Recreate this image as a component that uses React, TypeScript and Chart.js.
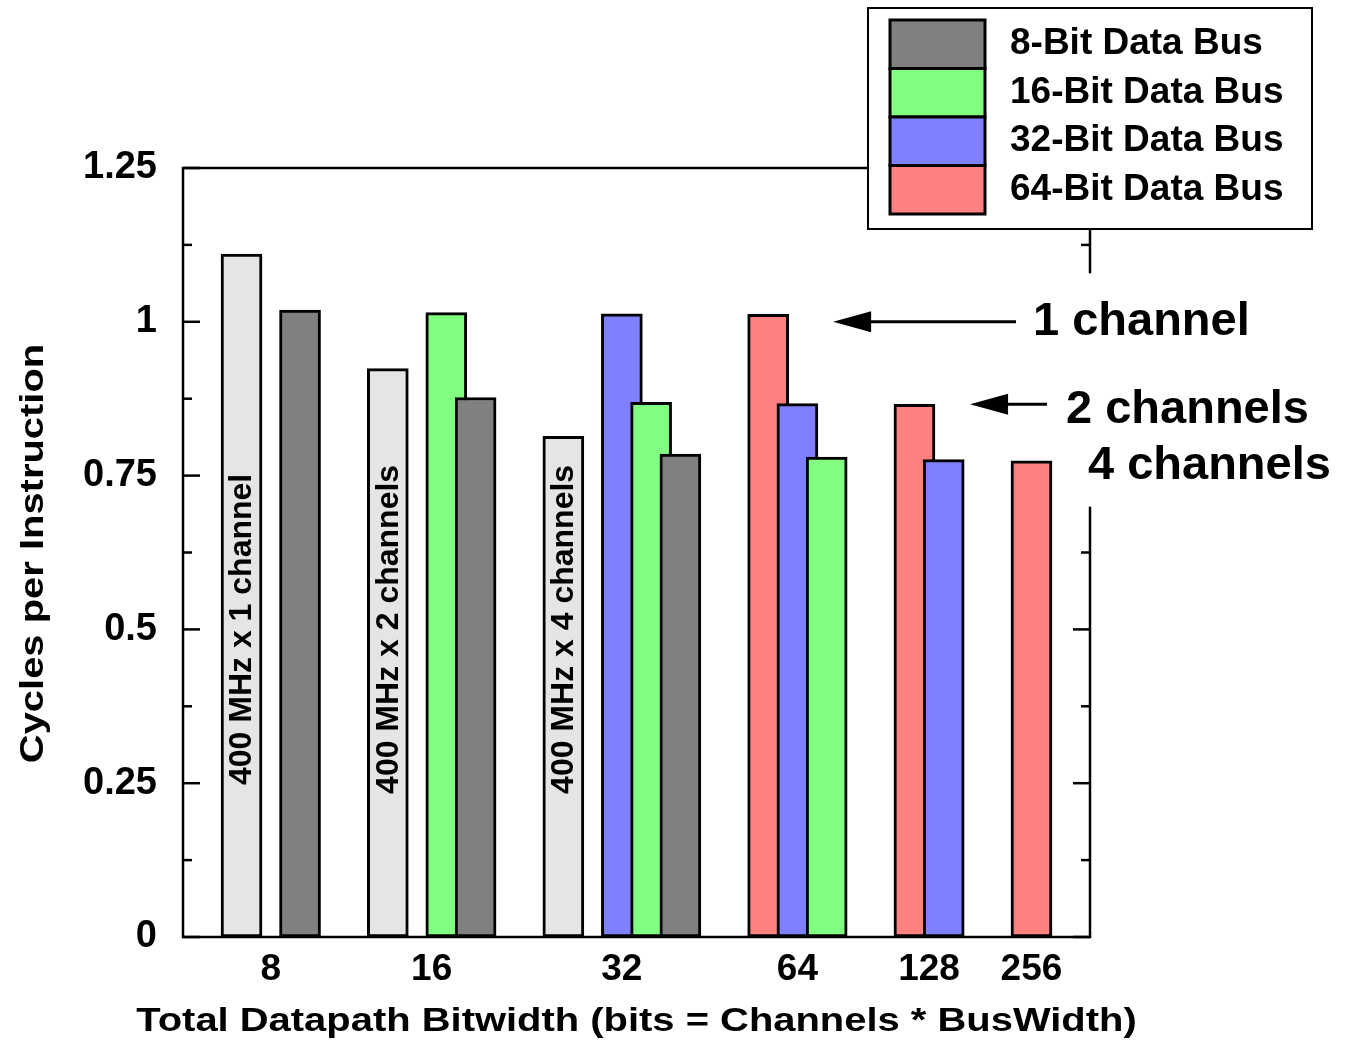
import { useEffect, useRef } from 'react';
import { Chart, registerables } from 'chart.js';

Chart.register(...registerables);

const FONT = "'Liberation Sans', Arial, Helvetica, sans-serif";

// x axis: slot positions (one slot = half-bar offset) and group tick labels
const groupLabels = ['8', '16', '32', '64', '128', '256'];
const groupSlots = [1, 6.5, 13, 19, 23.5, 27];
const xSlotMin = -2;
const xSlotMax = 29;

// reference bars: 400 MHz memory
const baselineSlots = [0, 5, 11];
const baselineValues = [1.11, 0.924, 0.814];
const baselineTexts = ['400 MHz x 1 channel', '400 MHz x 2 channels', '400 MHz x 4 channels'];
const baselineColor = '#e5e5e5';

// data-bus series
const bus8Slots = [2, 8, 15];
const bus8Values = [1.019, 0.877, 0.785];
const bus16Slots = [7, 14, 20];
const bus16Values = [1.015, 0.869, 0.78];
const bus32Slots = [13, 19, 24];
const bus32Values = [1.013, 0.867, 0.776];
const bus64Slots = [18, 23, 27];
const bus64Values = [1.012, 0.866, 0.774];

const seriesLabels = ['8-Bit Data Bus', '16-Bit Data Bus', '32-Bit Data Bus', '64-Bit Data Bus'];
const seriesColors = ['#808080', '#80ff80', '#8080ff', '#ff8080'];

// y axis
const yMajorTicks = [0, 0.25, 0.5, 0.75, 1, 1.25];
const yTickLabels = ['0', '0.25', '0.5', '0.75', '1', '1.25'];
const yMinorTicks = [0.125, 0.375, 0.625, 0.875, 1.125];

const xTitle = 'Total Datapath Bitwidth (bits = Channels * BusWidth)';
const yTitle = 'Cycles per Instruction';

// channel notes (levels in y units, positions in x slots)
const noteTexts = ['1 channel', '2 channels', '4 channels'];
const noteArrowLevels = [1.0, 0.866, null];
const noteArrowTips = [20.22, 24.9, null];
const noteArrowTails = [26.47, 27.53, null];
const noteTextLefts = [27.05, 28.18, 28.93];
const noteBaselines = [0.978, 0.836, 0.745];

const mk = (slots: number[], values: number[]) => slots.map((s, i) => ({ x: s, y: values[i] }));

const decorPlugin = {
  id: 'decor',
  afterDatasetsDraw(chart: any) {
    const { ctx, chartArea: a } = chart;
    const x = chart.scales.x;
    const y = chart.scales.y;
    ctx.save();
    // labels inside reference bars
    ctx.fillStyle = '#000';
    ctx.font = `bold 32px ${FONT}`;
    ctx.textAlign = 'center';
    ctx.textBaseline = 'middle';
    baselineSlots.forEach((s, i) => {
      ctx.save();
      ctx.translate(x.getPixelForValue(s) + 1, y.getPixelForValue(0.5));
      ctx.rotate(-Math.PI / 2);
      ctx.fillText(baselineTexts[i], 0, 0);
      ctx.restore();
    });
    // frame
    ctx.strokeStyle = '#000';
    ctx.lineWidth = 2.5;
    ctx.strokeRect(a.left, a.top, a.right - a.left, a.bottom - a.top);
    const seg = (x1: number, y1: number, x2: number, y2: number) => {
      ctx.beginPath();
      ctx.moveTo(x1, y1);
      ctx.lineTo(x2, y2);
      ctx.stroke();
    };
    yMajorTicks.forEach((v) => {
      const py = y.getPixelForValue(v);
      seg(a.left, py, a.left + 17, py);
      seg(a.right, py, a.right - 17, py);
    });
    yMinorTicks.forEach((v) => {
      const py = y.getPixelForValue(v);
      seg(a.left, py, a.left + 9, py);
      seg(a.right, py, a.right - 9, py);
    });
    ctx.restore();
  },
  afterDraw(chart: any) {
    const { ctx, chartArea: a } = chart;
    const x = chart.scales.x;
    const y = chart.scales.y;
    ctx.save();
    ctx.fillStyle = '#000';
    // axis titles
    ctx.font = `bold 33px ${FONT}`;
    ctx.textAlign = 'center';
    ctx.textBaseline = 'alphabetic';
    ctx.save();
    ctx.translate((a.left + a.right) / 2, 1031);
    ctx.scale(1.21, 1);
    ctx.fillText(xTitle, 0, 0);
    ctx.restore();
    ctx.save();
    ctx.translate(43, (a.top + a.bottom) / 2 + 1);
    ctx.rotate(-Math.PI / 2);
    ctx.scale(1.21, 1);
    ctx.fillText(yTitle, 0, 0);
    ctx.restore();

    // channel notes: white backgrounds first, then text and arrows
    ctx.font = `bold 47px ${FONT}`;
    ctx.textAlign = 'left';
    const boxes = noteTexts.map((t, i) => ({
      tx: x.getPixelForValue(noteTextLefts[i]),
      by: y.getPixelForValue(noteBaselines[i]),
      w: ctx.measureText(t).width,
    }));
    ctx.fillStyle = '#fff';
    boxes.forEach((b) => ctx.fillRect(b.tx - 18, b.by - 62, b.w + 24, 90));
    ctx.fillStyle = '#000';
    noteTexts.forEach((t, i) => {
      const b = boxes[i];
      ctx.fillText(t, b.tx, b.by);
      const lvl = noteArrowLevels[i];
      if (lvl !== null) {
        const ay = y.getPixelForValue(lvl);
        const tip = x.getPixelForValue(noteArrowTips[i] as number);
        const tail = x.getPixelForValue(noteArrowTails[i] as number);
        ctx.strokeStyle = '#000';
        ctx.lineWidth = 3;
        ctx.beginPath();
        ctx.moveTo(tail, ay);
        ctx.lineTo(tip + 30, ay);
        ctx.stroke();
        ctx.beginPath();
        ctx.moveTo(tip, ay);
        ctx.lineTo(tip + 38, ay - 10.5);
        ctx.lineTo(tip + 38, ay + 10.5);
        ctx.closePath();
        ctx.fill();
      }
    });

    // legend
    const lx = 868, ly = 8, lw = 444, lh = 221;
    ctx.fillStyle = '#fff';
    ctx.fillRect(lx, ly, lw, lh);
    ctx.strokeStyle = '#000';
    ctx.lineWidth = 2;
    ctx.strokeRect(lx, ly, lw, lh);
    const rowH = 48.5;
    ctx.font = `bold 37px ${FONT}`;
    ctx.textAlign = 'left';
    ctx.textBaseline = 'alphabetic';
    chart.data.datasets.slice(0, 4).forEach((ds: any, i: number) => {
      const top = 20 + i * rowH;
      ctx.fillStyle = ds.backgroundColor;
      ctx.fillRect(890, top, 95, rowH);
      ctx.strokeStyle = '#000';
      ctx.lineWidth = 3;
      ctx.strokeRect(890, top, 95, rowH);
      ctx.fillStyle = '#000';
      ctx.fillText(ds.label, 1010, top + 34);
    });
    ctx.restore();
  },
};

export default function App() {
  const ref = useRef<HTMLCanvasElement>(null);
  useEffect(() => {
    if (!ref.current) return;
    const barBase = { borderColor: '#000', borderWidth: 3, borderSkipped: false, barThickness: 41, grouped: false };
    const seriesSlots = [bus8Slots, bus16Slots, bus32Slots, bus64Slots];
    const seriesValues = [bus8Values, bus16Values, bus32Values, bus64Values];
    const datasets: any[] = seriesLabels.map((label, i) => ({
      ...barBase,
      label,
      data: mk(seriesSlots[i], seriesValues[i]),
      backgroundColor: seriesColors[i],
    }));
    datasets.push({
      ...barBase,
      label: '400 MHz',
      data: mk(baselineSlots, baselineValues),
      backgroundColor: baselineColor,
    });
    const chart = new Chart(ref.current, {
      type: 'bar',
      data: { datasets },
      options: {
        animation: false,
        responsive: false,
        devicePixelRatio: 1,
        layout: { padding: { left: 0, right: 255, top: 168, bottom: 0 } },
        plugins: { legend: { display: false }, tooltip: { enabled: false } },
        scales: {
          x: {
            type: 'linear',
            min: xSlotMin,
            max: xSlotMax,
            offset: false,
            grid: { display: false, drawTicks: false },
            border: { display: false },
            afterBuildTicks: (s: any) => {
              s.ticks = groupSlots.map((v) => ({ value: v }));
            },
            afterFit: (s: any) => {
              s.height = 104;
            },
            ticks: {
              autoSkip: false,
              maxRotation: 0,
              padding: 11,
              color: '#000',
              font: { family: FONT, size: 37, weight: 'bold' },
              callback: (_v: any, i: number) => groupLabels[i],
            },
          },
          y: {
            type: 'linear',
            min: 0,
            max: 1.25,
            grid: { display: false, drawTicks: false },
            border: { display: false },
            afterBuildTicks: (s: any) => {
              s.ticks = yMajorTicks.map((v) => ({ value: v }));
            },
            afterFit: (s: any) => {
              s.width = 183;
            },
            ticks: {
              padding: 26,
              color: '#000',
              font: { family: FONT, size: 38, weight: 'bold' },
              callback: (_v: any, i: number) => yTickLabels[i],
            },
          },
        },
      } as any,
      plugins: [decorPlugin],
    });
    return () => chart.destroy();
  }, []);
  return (
    <div style={{ position: 'absolute', left: 0, top: 0, width: 1345, height: 1041, background: '#fff' }}>
      <canvas ref={ref} width={1345} height={1041} style={{ display: 'block' }} />
    </div>
  );
}
